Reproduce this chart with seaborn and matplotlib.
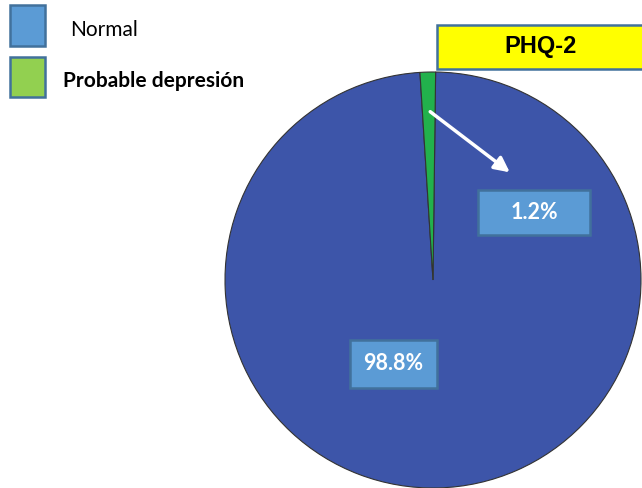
import matplotlib
matplotlib.use("Agg")
import matplotlib.pyplot as plt
import seaborn as sns
from matplotlib.patches import Rectangle

sns.set_style("white")
plt.rcParams['font.family'] = ['Lato', 'DejaVu Sans']

categories = ["Normal", "Probable depresión"]
values = [98.8, 1.2]
pie_colors = ["#3D55A9", "#22B14C"]
legend_colors = ["#5B9BD5", "#92D050"]
title = "PHQ-2"

W, H = 642, 488
fig = plt.figure(figsize=(W / 100, H / 100), dpi=100)
ax = fig.add_axes([0, 0, 1, 1])

ax.pie(values, colors=pie_colors, startangle=93.6, counterclock=True,
       center=(433, H - 280), radius=208, frame=True,
       wedgeprops=dict(edgecolor="#333333", linewidth=0.8))
ax.set_xlim(0, W)
ax.set_ylim(0, H)
ax.set_aspect("equal")
ax.axis("off")


def label_box(x0, y0, x1, y1, text, face, edge, **kw):
    # box given in pixel coordinates from the top-left corner
    ax.add_patch(Rectangle((x0, H - y1), x1 - x0, y1 - y0, facecolor=face,
                           edgecolor=edge, linewidth=1.8, zorder=3))
    ax.text((x0 + x1) / 2, H - (y0 + y1) / 2, text, ha="center", va="center",
            zorder=4, **kw)


label_box(478, 190, 590, 235, f"{values[1]}%", "#5B9BD5", "#41719C",
          color="white", fontsize=15.5, fontweight="bold")
label_box(350, 340, 437, 388, f"{values[0]}%", "#5B9BD5", "#41719C",
          color="white", fontsize=15.5, fontweight="bold")
label_box(437, 25, 645, 69, title, "#FFFF00", "#41719C",
          color="black", fontsize=17, fontweight="bold", family="Liberation Sans")

ax.annotate("", xy=(512, H - 174), xytext=(428, H - 110),
            arrowprops=dict(arrowstyle="-|>,head_length=0.9,head_width=0.45",
                            color="white", lw=2.5), zorder=5)

# legend
legend_rows = [(5, 46, 70, "normal"), (57, 97, 63, "bold")]
for (y0, y1, tx, weight), name, col in zip(legend_rows, categories, legend_colors):
    ax.add_patch(Rectangle((10, H - y1), 35, y1 - y0, facecolor=col,
                           edgecolor="#41719C", linewidth=1.8))
    ax.text(tx, H - (y0 + y1) / 2 - 4, name, ha="left", va="center",
            fontsize=15, fontweight=weight, color="black")

fig.savefig("out.png", dpi=100)
